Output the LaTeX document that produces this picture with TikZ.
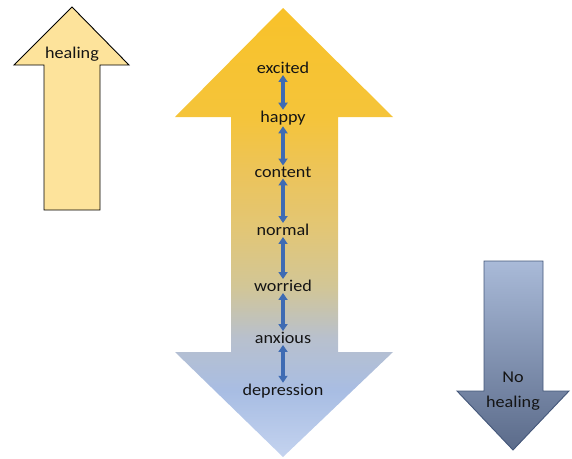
\documentclass[tikz,border=0pt]{standalone}
\usepackage{fontspec}
\setmainfont{Carlito}
\newfontfamily\moodfont[FakeStretch=1.1]{Carlito}
\usetikzlibrary{arrows.meta}
\definecolor{healfill}{HTML}{FDE39B}
\definecolor{moodblue}{HTML}{3E6BB3}
\definecolor{moodtext}{HTML}{141414}
\definecolor{slatetop}{HTML}{A9BAD8}
\definecolor{slatebot}{HTML}{5B6B8A}
\definecolor{slateline}{HTML}{44577A}
\definecolor{mdepthbot}{RGB}{196,211,239}
\definecolor{mdepress}{RGB}{168,189,227}
\definecolor{manxious}{RGB}{184,192,205}
\definecolor{mworried}{RGB}{210,198,150}
\definecolor{mnormal}{RGB}{226,198,118}
\definecolor{mcontent}{RGB}{236,196,90}
\definecolor{mhappy}{RGB}{245,196,58}
\definecolor{mexcited}{RGB}{248,194,42}
\pgfdeclareverticalshading{moodshade}{100bp}{
  color(0bp)=(mdepthbot);
  color(25bp)=(mdepthbot);
  color(32.3bp)=(mdepress);
  color(38.3bp)=(manxious);
  color(44bp)=(mworried);
  color(50.3bp)=(mnormal);
  color(56.7bp)=(mcontent);
  color(62.9bp)=(mhappy);
  color(75bp)=(mexcited);
  color(100bp)=(mexcited)}
\tikzset{
  mood/.style={font=\moodfont\fontsize{16.5}{19}\selectfont, text=moodtext, inner sep=1pt},
  updown/.style={{Triangle[width=9pt,length=7pt]}-{Triangle[width=9pt,length=7pt]},
    line width=3.6pt, draw=moodblue}
}
\begin{document}
\begin{tikzpicture}[x=1pt,y=-1pt]
  \useasboundingbox (0,0) rectangle (572,458);
  % healing arrow
  \draw[fill=healfill, line width=0.9pt] (72,7) -- (129,65) -- (100,65) -- (100,210)
    -- (44,210) -- (44,65) -- (14,65) -- cycle;
  \node[mood] (heal) at (72,54) {healing};
  % mood scale
  \shade[shading=moodshade] (283,8) -- (393,117) -- (338,117) -- (338,352) -- (393,352)
    -- (283,457) -- (175,352) -- (231,352) -- (231,117) -- (175,117) -- cycle;
  \node[mood] (excited) at (283,68) {excited};
  \node[mood] (happy) at (283,118) {happy};
  \node[mood] (content) at (283,172) {content};
  \node[mood] (normal) at (283,230) {normal};
  \node[mood] (worried) at (283,286) {worried};
  \node[mood] (anxious) at (283,338) {anxious};
  \node[mood] (depression) at (283,391) {depression};
  \foreach \a/\b in {excited/happy, happy/content, content/normal,
      normal/worried, worried/anxious, anxious/depression}
    \draw[updown] (\a) -- (\b);
  % no healing arrow
  \draw[top color=slatetop, bottom color=slatebot, draw=slateline, line width=0.9pt]
    (484,261) -- (543,261) -- (543,391) -- (569,391) -- (513,450) -- (457,391)
    -- (484,391) -- cycle;
  \node[mood] (no) at (513,377) {No};
  \node[mood] (noheal) at (513,403) {healing};
\end{tikzpicture}
\end{document}
